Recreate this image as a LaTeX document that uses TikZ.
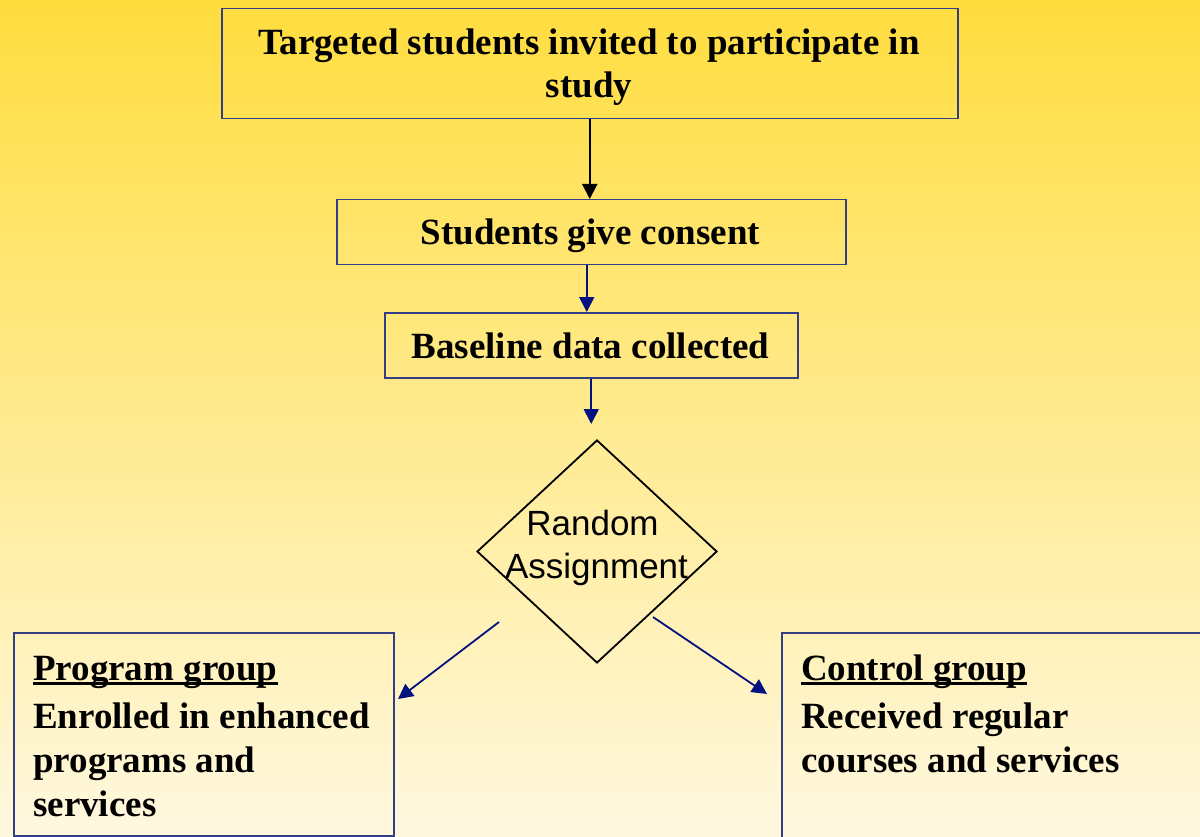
\documentclass[tikz,border=0pt]{standalone}
\usepackage{fontspec}
\setmainfont{Liberation Serif}
\newfontfamily\diafont{Liberation Sans}
\usetikzlibrary{arrows.meta,shapes.geometric}
\definecolor{bgtop}{RGB}{255,221,62}
\definecolor{bgbot}{RGB}{255,248,224}
\definecolor{boxline}{RGB}{52,62,132}
\definecolor{arrowblue}{RGB}{4,18,128}
\begin{document}
\begin{tikzpicture}[x=1pt,y=-1pt,
  box/.style={draw=boxline, line width=1.5pt, rectangle, inner sep=0pt, anchor=north west},
  boxtext/.style={font=\fontsize{37}{44}\selectfont\bfseries, inner sep=0pt},
  flow/.style={draw=arrowblue, line width=1.8pt, -{Triangle[length=15pt,width=15pt]}},
  uline/.style={line width=2.5pt, draw=black},
]
\useasboundingbox (0,0) rectangle (1200,837);
\clip (0,0) rectangle (1200,837);
\shade[top color=bgtop, bottom color=bgbot] (0,0) rectangle (1200,837);

% boxes
\node[box, minimum width=736, minimum height=110] (invite) at (221,8) {};
\node[box, minimum width=509, minimum height=65] (consent) at (336,199) {};
\node[box, minimum width=413, minimum height=65] (base) at (384,312) {};
\node[diamond, draw=black, line width=1.8pt, minimum width=240, minimum height=223, inner sep=0pt] (dia) at (597,551.5) {};
\node[box, minimum width=380, minimum height=203] (prog) at (13,632) {};
\node[box, minimum width=460, minimum height=240] (ctrl) at (781,632) {};

% texts
\node[boxtext, anchor=base] (invitet1) at (589,55) {Targeted students invited to participate in};
\node[boxtext, anchor=base] (invitet2) at (589,98) {study};
\node[boxtext, anchor=base] (consentt) at (590.5,245) {Students give consent};
\node[boxtext, anchor=base] (baset) at (590.5,358) {Baseline data collected};
\node[font=\diafont\fontsize{35}{43}\selectfont, inner sep=0pt, anchor=base] (diat1) at (592.5,535) {Random};
\node[font=\diafont\fontsize{35}{43}\selectfont, inner sep=0pt, anchor=base] (diat2) at (596.5,578) {Assignment};
\node[boxtext, anchor=base west] (progt1) at (33,680) {Program group};
\node[boxtext, anchor=base west] (progt2) at (33,728) {Enrolled in enhanced};
\node[boxtext, anchor=base west] (progt3) at (33,772) {programs and};
\node[boxtext, anchor=base west] (progt4) at (33,816) {services};
\node[boxtext, anchor=base west] (ctrlt1) at (801,680) {Control group};
\node[boxtext, anchor=base west] (ctrlt2) at (801,728) {Received regular};
\node[boxtext, anchor=base west] (ctrlt3) at (801,772) {courses and services};

% underlines
\draw[uline] ([yshift=-3.3pt]progt1.base west) -- ([yshift=-3.3pt]progt1.base east);
\draw[uline] ([yshift=-3.3pt]ctrlt1.base west) -- ([yshift=-3.3pt]ctrlt1.base east);

% connectors
\draw[flow, draw=black, line width=2pt] (invite.south) -- (invite.south |- consent.north);
\draw[flow] ([xshift=-4.5pt]consent.south) -- ([xshift=-4.5pt]consent.south |- base.north);
\coordinate (a3end) at (590.5,424);
\draw[flow] (base.south) -- (base.south |- a3end);
\coordinate (l1) at (499,622);
\coordinate (l2) at (398,699);
\coordinate (r1) at (653,617);
\coordinate (r2) at (767,694);
\draw[flow] (l1) -- (l2);
\draw[flow] (r1) -- (r2);
\end{tikzpicture}
\end{document}
